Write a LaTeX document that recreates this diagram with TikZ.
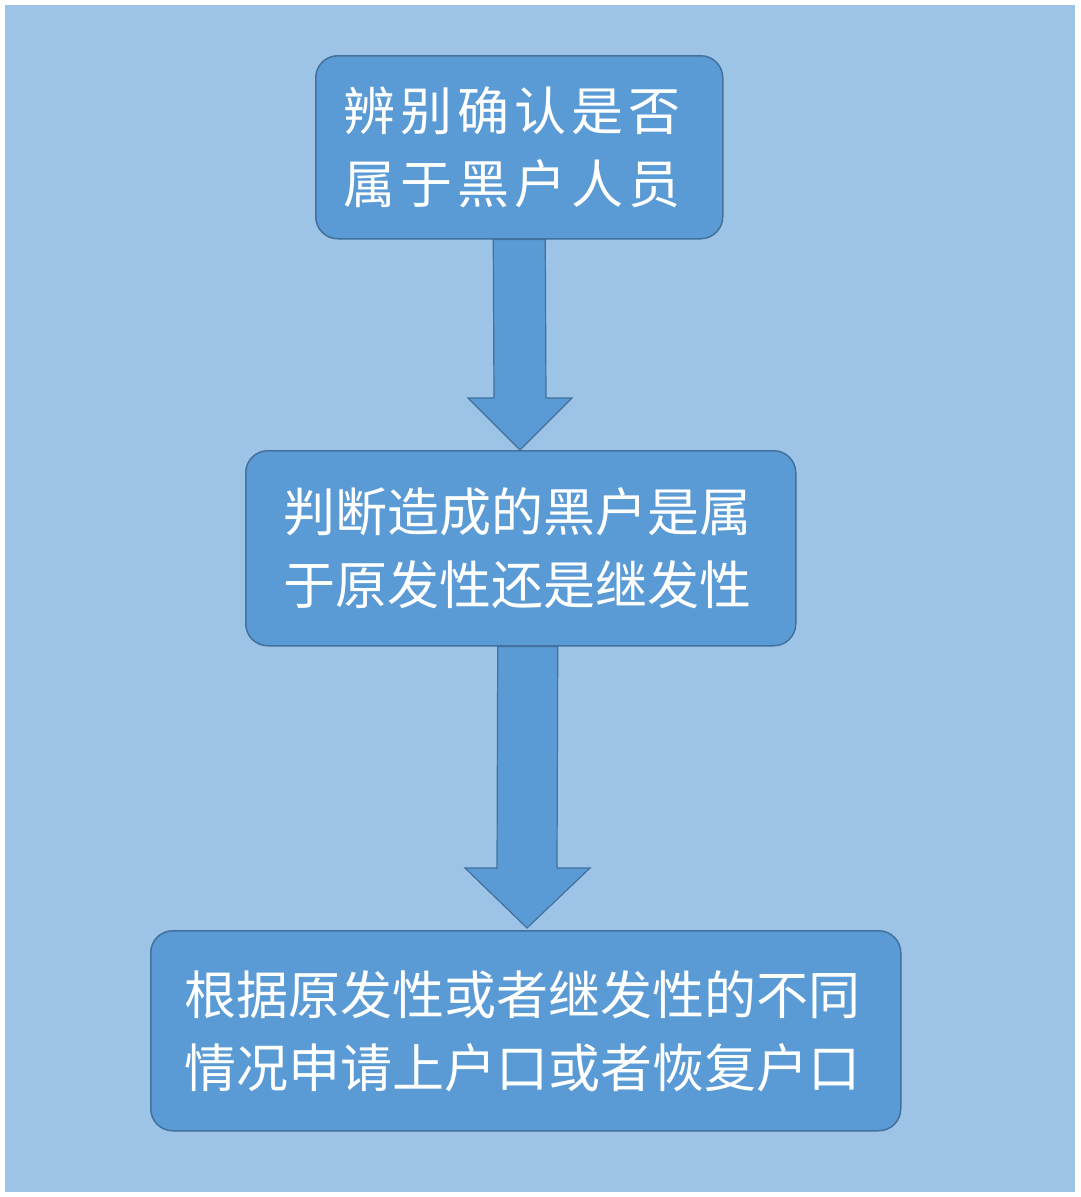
\documentclass[tikz,border=0pt]{standalone}
\usepackage{fontspec}
\newfontfamily\cjk{Noto Sans CJK SC}
\usetikzlibrary{calc}
\definecolor{bg}{HTML}{9DC3E6}
\definecolor{bx}{HTML}{5B9BD5}
\definecolor{bd}{HTML}{41719C}
\tikzset{x=1pt,y=-1pt,
 box/.style={draw=bd,line width=1.5pt,fill=bx,rounded corners=22pt,anchor=north west,inner sep=0pt},
 txt/.style={text=white,font=\cjk\fontsize{52}{73}\selectfont,align=left,anchor=west},
 arr/.style={fill=bx,draw=bd,line width=1.2pt}}
\begin{document}
\begin{tikzpicture}
\useasboundingbox (0,0) rectangle (1080,1197);
\fill[white] (0,0) rectangle (1080,1197);
\fill[bg] (5,5) rectangle (1075,1192);
\node[box,minimum width=407pt,minimum height=183pt] (b1) at (315,55) {};
\node[box,minimum width=550pt,minimum height=195pt] (b2) at (245,450) {};
\node[box,minimum width=750pt,minimum height=200pt] (b3) at (150,930) {};
\node[txt] (t1) at (340,147) {辨\hspace{5pt}别\hspace{5pt}确\hspace{5pt}认\hspace{5pt}是\hspace{5pt}否\\属\hspace{5pt}于\hspace{5pt}黑\hspace{5pt}户\hspace{5pt}人\hspace{5pt}员};
\node[txt] (t2) at (280,548) {判断造成的黑户是属\\于原发性还是继发性};
\node[txt] (t3) at (181,1031) {根据原发性或者继发性的不同\\情况申请上户口或者恢复户口};
\draw[arr] ($(b1.south)+(-26,0)$) -- ($(b1.south)+(26,0)$) -- (546,398) -- (572,398) -- (b2.north -| 520,0) -- (468,398) -- (494,398) -- cycle;
\draw[arr] ($(b2.south)+(-23,0)$) -- ($(b2.south)+(37,0)$) -- (557,868) -- (590,868) -- (527,928) -- (465,868) -- (497,868) -- cycle;
\end{tikzpicture}
\end{document}
